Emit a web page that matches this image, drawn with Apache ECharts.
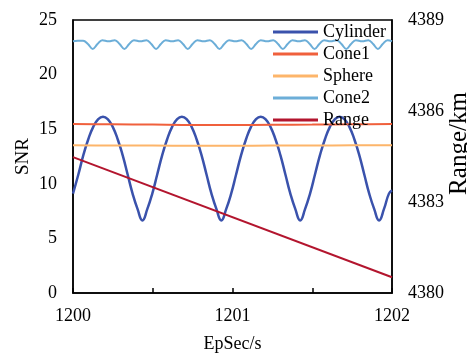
<!DOCTYPE html>
<html>
<head>
<meta charset="utf-8">
<script src="https://cdn.jsdelivr.net/npm/echarts@6/dist/echarts.min.js"></script>
<style>html,body{margin:0;padding:0;background:#fff}#c{width:467px;height:353px}</style>
</head>
<body>
<div id="c"></div>
<script>
// ---- data ----
var cylTime = [1200.0000,1200.0335,1200.0644,1200.0953,1200.1262,1200.1571,1200.1880,1200.2189,1200.2498,1200.2807,
  1200.3116,1200.3426,1200.3735,1200.4044,1200.4353,1200.4662,1200.4971,1200.5280,1200.5589,1200.5898,
  1200.6207,1200.6517,1200.6826,1200.7135,1200.7444,1200.7753,1200.8062,1200.8371,1200.8680,1200.8989,
  1200.9298,1200.9608,1200.9917,1201.0226,1201.0535,1201.0844,1201.1153,1201.1462,1201.1771,1201.2080,
  1201.2389,1201.2699,1201.3008,1201.3317,1201.3626,1201.3935,1201.4244,1201.4553,1201.4862,1201.5171,
  1201.5480,1201.5790,1201.6099,1201.6408,1201.6717,1201.7026,1201.7335,1201.7644,1201.7953,1201.8262,
  1201.8571,1201.8881,1201.9190,1201.9499,1201.9808,1202.0000];
var cylSNR = [9.10,10.85,12.60,14.06,15.19,15.90,16.15,15.90,15.19,14.06,
  12.60,10.85,9.10,7.70,6.65,7.70,9.10,10.85,12.60,14.06,
  15.19,15.90,16.15,15.90,15.19,14.06,12.60,10.85,9.10,7.70,
  6.65,7.70,9.10,10.85,12.60,14.06,15.19,15.90,16.15,15.90,
  15.19,14.06,12.60,10.85,9.10,7.70,6.65,7.70,9.10,10.85,
  12.60,14.06,15.19,15.90,16.15,15.90,15.19,14.06,12.60,10.85,
  9.10,7.70,6.65,7.70,9.10,9.40];

var coarseTime = [1200,1200.25,1200.5,1200.75,1201,1201.25,1201.5,1201.75,1202];
var cone1SNR  = [15.48,15.45,15.42,15.38,15.38,15.40,15.42,15.45,15.48];
var sphereSNR = [13.52,13.50,13.50,13.48,13.48,13.50,13.50,13.52,13.52];

var cone2Time = [1200.0000,1200.0300,1200.0635,1200.0935,1200.1235,1200.1535,1200.1835,1200.2235,
  1200.2622,1200.2922,1200.3222,1200.3522,1200.3822,1200.4222,
  1200.4609,1200.4909,1200.5209,1200.5509,1200.5809,1200.6209,
  1200.6596,1200.6896,1200.7196,1200.7496,1200.7796,1200.8196,
  1200.8583,1200.8883,1200.9183,1200.9483,1200.9783,1201.0183,
  1201.0570,1201.0870,1201.1170,1201.1470,1201.1770,1201.2170,
  1201.2557,1201.2857,1201.3157,1201.3457,1201.3757,1201.4157,
  1201.4544,1201.4844,1201.5144,1201.5444,1201.5744,1201.6144,
  1201.6531,1201.6831,1201.7131,1201.7431,1201.7731,1201.8131,
  1201.8518,1201.8818,1201.9118,1201.9418,1201.9718,1202.0000];
var cone2SNR = [23.05,23.10,23.10,22.80,22.35,22.80,23.15,23.05,
  23.15,22.80,22.35,22.80,23.15,23.05,
  23.15,22.80,22.35,22.80,23.15,23.05,
  23.15,22.80,22.35,22.80,23.15,23.05,
  23.15,22.80,22.35,22.80,23.15,23.05,
  23.15,22.80,22.35,22.80,23.15,23.05,
  23.15,22.80,22.35,22.80,23.15,23.05,
  23.15,22.80,22.35,22.80,23.15,23.05,
  23.15,22.80,22.35,22.80,23.15,23.05,
  23.15,22.80,22.35,22.80,23.15,23.05];

var rangeTime = [1200, 1202];
var rangeKm = [4384.48, 4380.52];

var xTicks = [1200, 1201, 1202];
var snrTicks = [0, 5, 10, 15, 20, 25];
var rangeTicks = [4380, 4383, 4386, 4389];

// ---- build ----
function zip(a, b) { return a.map(function (v, i) { return [v, b[i]]; }); }
var FONT = 'Liberation Serif';
var chart = echarts.init(document.getElementById('c'), null, {renderer: 'canvas'});
function lineSeries(name, data, color, width, yIdx, smooth) {
  return {name: name, type: 'line', data: data, yAxisIndex: yIdx, showSymbol: false, symbol: 'none',
    smooth: smooth, lineStyle: {color: color, width: width}, itemStyle: {color: color}, animation: false};
}
chart.setOption({
  animation: false,
  grid: {left: 73, right: 75, top: 20, bottom: 60, show: true, borderColor: '#000', borderWidth: 1.5,
    backgroundColor: 'transparent', containLabel: false, outerBoundsMode: 'none'},
  legend: {
    orient: 'vertical', left: 268, top: 18, itemWidth: 45, itemHeight: 3, itemGap: 4, icon: 'rect',
    textStyle: {fontFamily: FONT, fontSize: 18, color: '#000', lineHeight: 17},
    data: ['Cylinder', 'Cone1', 'Sphere', 'Cone2', 'Range']
  },
  xAxis: {
    type: 'value', min: xTicks[0], max: xTicks[xTicks.length - 1], interval: 0.5,
    name: 'EpSec/s', nameLocation: 'middle', nameGap: 42, nameMoveOverlap: false,
    nameTextStyle: {fontFamily: FONT, fontSize: 18, color: '#000'},
    axisLine: {show: true, lineStyle: {color: '#000', width: 1.5}},
    axisTick: {show: true, inside: true, length: 5, lineStyle: {color: '#000', width: 1.5}},
    axisLabel: {fontFamily: FONT, fontSize: 18, color: '#000', margin: 14,
      formatter: function (v) { return xTicks.indexOf(Math.round(v * 100) / 100) >= 0 ? String(Math.round(v)) : ''; }},
    splitLine: {show: false}
  },
  yAxis: [{
    type: 'value', min: snrTicks[0], max: snrTicks[snrTicks.length - 1], interval: 5, position: 'left',
    name: 'SNR', nameLocation: 'middle', nameGap: 40, nameRotate: 90, nameMoveOverlap: false,
    nameTextStyle: {fontFamily: FONT, fontSize: 19, color: '#000'},
    axisLine: {show: true, lineStyle: {color: '#000', width: 1.5}},
    axisTick: {show: false},
    axisLabel: {fontFamily: FONT, fontSize: 18, color: '#000', margin: 16},
    splitLine: {show: false}
  }, {
    type: 'value', min: rangeTicks[0], max: rangeTicks[rangeTicks.length - 1], interval: 3, position: 'right',
    name: 'Range/km', nameLocation: 'middle', nameGap: 55, nameRotate: 90, nameMoveOverlap: false,
    nameTextStyle: {fontFamily: FONT, fontSize: 25, color: '#000', padding: [0, 0, 0, 26]},
    axisLine: {show: true, lineStyle: {color: '#000', width: 1.5}},
    axisTick: {show: false},
    axisLabel: {fontFamily: FONT, fontSize: 18, color: '#000', margin: 16,
      formatter: function (v) { return String(v); }},
    splitLine: {show: false}
  }],
  series: [
    lineSeries('Cylinder', zip(cylTime, cylSNR), '#3A52AC', 2.5, 0, 0.5),
    lineSeries('Cone1', zip(coarseTime, cone1SNR), '#F0603C', 2, 0, 0.3),
    lineSeries('Sphere', zip(coarseTime, sphereSNR), '#FDB56A', 2, 0, 0.3),
    lineSeries('Cone2', zip(cone2Time, cone2SNR), '#6CAED8', 2, 0, 0.4),
    lineSeries('Range', zip(rangeTime, rangeKm), '#B3152E', 2, 1, false)
  ]
});
</script>
</body>
</html>
